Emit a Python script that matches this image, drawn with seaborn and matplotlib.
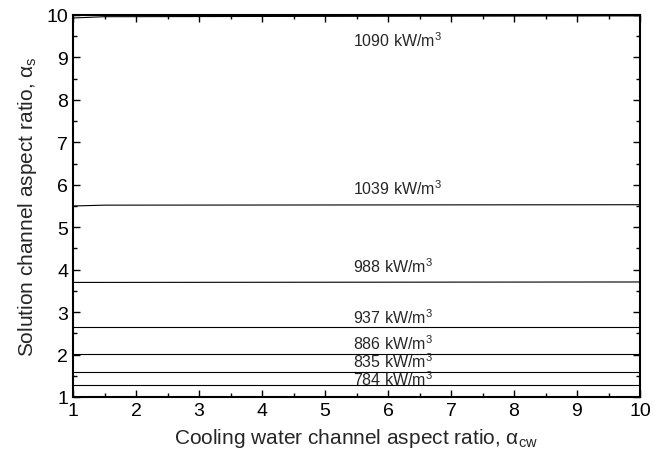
import matplotlib
matplotlib.use("Agg")
import matplotlib.pyplot as plt
import seaborn as sns
import pandas as pd
from matplotlib.ticker import MultipleLocator

sns.set_theme(style="ticks")
plt.rcParams['font.family'] = ['Liberation Sans', 'DejaVu Sans']
plt.rcParams['mathtext.fontset'] = 'custom'
plt.rcParams['mathtext.rm'] = 'Liberation Sans'
plt.rcParams['mathtext.it'] = 'Liberation Sans:italic'

x_cw = [1, 1.5, 10]
power_labels = ["1090", "1039", "988", "937", "886", "835", "784"]
alpha_s = {
    "1090": [9.93, 9.96, 9.98],
    "1039": [5.50, 5.52, 5.53],
    "988": [3.70, 3.70, 3.71],
    "937": [2.65, 2.65, 2.65],
    "886": [2.01, 2.01, 2.01],
    "835": [1.60, 1.60, 1.60],
    "784": [1.28, 1.28, 1.28],
}
label_x = 5.45
label_y = [9.42, 5.93, 4.10, 2.90, 2.27, 1.85, 1.43]

rows = []
for p in power_labels:
    for xv, yv in zip(x_cw, alpha_s[p]):
        rows.append({"x": xv, "y": yv, "q": p})
df = pd.DataFrame(rows)

fig = plt.figure(figsize=(6.59, 4.64), dpi=100)
ax = fig.add_axes([73/659, 1-398/464, 567/659, 382/464])
sns.lineplot(data=df, x="x", y="y", hue="q", palette=["black"]*len(power_labels),
             linewidth=0.8, legend=False, ax=ax)

for p, ly in zip(power_labels, label_y):
    ax.text(label_x, ly, p + r" kW/m$^3$", fontsize=11.5, ha="left", va="center")

ax.set_xlim(1, 10)
ax.set_ylim(1, 10)
ax.xaxis.set_major_locator(MultipleLocator(1))
ax.yaxis.set_major_locator(MultipleLocator(1))
ax.xaxis.set_minor_locator(MultipleLocator(0.5))
ax.yaxis.set_minor_locator(MultipleLocator(0.5))
ax.tick_params(which="both", direction="in", top=True, right=True, width=1.0, colors="black", labelsize=14)
ax.tick_params(which="major", length=5)
ax.tick_params(which="minor", length=3)
for s in ax.spines.values():
    s.set_linewidth(1.5)
    s.set_color("black")

ax.set_xlabel("Cooling water channel aspect ratio, α$_{\\rm cw}$", fontsize=15, labelpad=5)
ax.set_ylabel("Solution channel aspect ratio, α$_{\\rm s}$", fontsize=15, labelpad=5)

fig.savefig("out.png", dpi=100)
